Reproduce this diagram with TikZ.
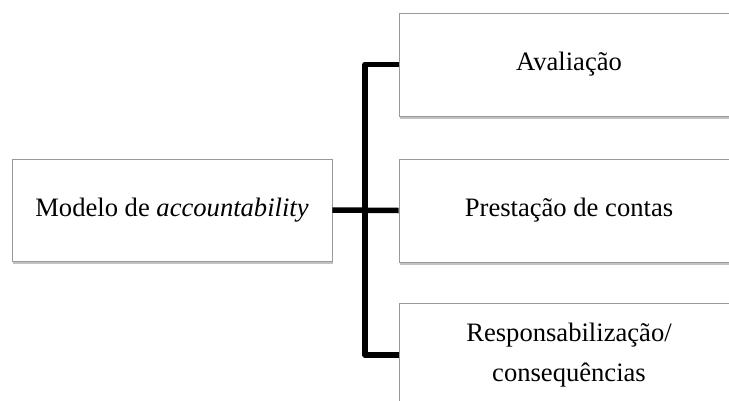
\documentclass[tikz,border=0pt]{standalone}
\usepackage{fontspec}
\setmainfont{Liberation Serif}
\usetikzlibrary{shadows}
\begin{document}
\begin{tikzpicture}[x=1pt,y=-1pt,
  box/.style={draw=black!40, line width=0.8pt, fill=white,
    drop shadow={shadow xshift=0.5pt, shadow yshift=-2.5pt, opacity=0.4, fill=black!60},
    inner sep=0pt, align=center, font=\fontsize{26.6}{40}\selectfont},
  link/.style={line width=5.5pt}]
\useasboundingbox (0,0) rectangle (729,400);
\clip (0,0) rectangle (729,400);
% source box
\node[box, minimum width=320pt, minimum height=102pt] (model) at (172,210) {Modelo de \textit{accountability}};
% target boxes
\node[box, minimum width=340pt, minimum height=103pt] (eval) at (569,64.5) {Avaliação};
\node[box, minimum width=340pt, minimum height=103pt] (acct) at (569,210.5) {Prestação de contas};
\node[box, minimum width=340pt, minimum height=103pt] (resp) at (569,355) {Responsabilização/\\consequências};
% bracket connector
\coordinate (spine) at (365,210);
\draw[link] (model.east) -- (acct.west);
\draw[link, line join=round] (eval.west) -- (spine |- eval.west) -- (spine |- resp.west) -- (resp.west);
\end{tikzpicture}
\end{document}
